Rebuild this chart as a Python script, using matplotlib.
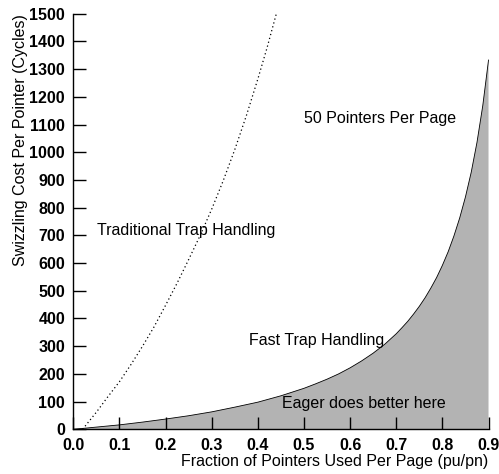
import matplotlib
matplotlib.use("Agg")
import matplotlib.pyplot as plt

plt.rcParams['font.family'] = ['Liberation Sans', 'DejaVu Sans']

### data
# fast trap handling (shaded area under it)
fast_x = [0.0, 0.05, 0.1, 0.15, 0.2, 0.25, 0.3, 0.35, 0.4, 0.45, 0.5,
          0.525, 0.55, 0.575, 0.6, 0.625, 0.65, 0.675, 0.7, 0.7125, 0.725,
          0.7375, 0.75, 0.7625, 0.775, 0.7875, 0.8, 0.8125, 0.825, 0.8375,
          0.85, 0.8625, 0.875, 0.8875, 0.9]
fast_y = [0, 8, 16, 26, 37, 49, 63, 80, 98, 121, 148,
          164, 181, 200, 222, 247, 275, 307, 345, 367, 390,
          416, 444, 475, 510, 548, 592, 641, 698, 763,
          839, 928, 1036, 1168, 1333]

# traditional trap handling (dotted)
trad_x = [0.02, 0.05, 0.075, 0.1, 0.125, 0.15, 0.175, 0.2, 0.225, 0.25,
          0.275, 0.3, 0.325, 0.35, 0.375, 0.4, 0.42, 0.44]
trad_y = [0, 62, 118, 172, 234, 300, 370, 448, 528, 613,
          700, 795, 898, 1010, 1132, 1265, 1378, 1500]

x_ticks = [0.0, 0.1, 0.2, 0.3, 0.4, 0.5, 0.6, 0.7, 0.8, 0.9]
y_ticks = list(range(0, 1501, 100))

notes = [("Traditional Trap Handling", 0.051, 716),
         ("50 Pointers Per Page", 0.500, 1121),
         ("Fast Trap Handling", 0.381, 319),
         ("Eager does better here", 0.452, 92)]

### plotting
fig = plt.figure(figsize=(4.99, 4.74), dpi=100)
ax = fig.add_axes([0.147, 0.0943, 0.832, 0.8766])

ax.fill_between(fast_x, 0, fast_y, facecolor='#b3b3b3', edgecolor='none')
ax.plot(fast_x, fast_y, color='black', linewidth=0.6)
ax.plot(trad_x, trad_y, color='black', linewidth=0.9, linestyle=(0, (1, 2.2)))

for txt, tx, ty in notes:
    ax.text(tx, ty, txt, fontsize=11.5, ha='left', va='center')

ax.set_xlim(0, 0.9)
ax.set_ylim(0, 1500)
ax.set_xticks(x_ticks)
ax.set_xticklabels(["%.1f" % v for v in x_ticks])
ax.set_yticks(y_ticks)
ax.tick_params(direction='in', length=9, width=1.0, labelsize=11.5, pad=6)
for lab in ax.get_xticklabels() + ax.get_yticklabels():
    lab.set_fontweight('bold')

for side in ['top', 'right']:
    ax.spines[side].set_visible(False)
for side in ['left', 'bottom']:
    ax.spines[side].set_linewidth(1.0)

ax.set_xlabel("Fraction of Pointers Used Per Page (pu/pn)", fontsize=11.5,
              loc='right', labelpad=1)
ax.set_ylabel("Swizzling Cost Per Pointer (Cycles)", fontsize=11.5,
              loc='top', labelpad=1)

fig.savefig("out.png", dpi=100)
